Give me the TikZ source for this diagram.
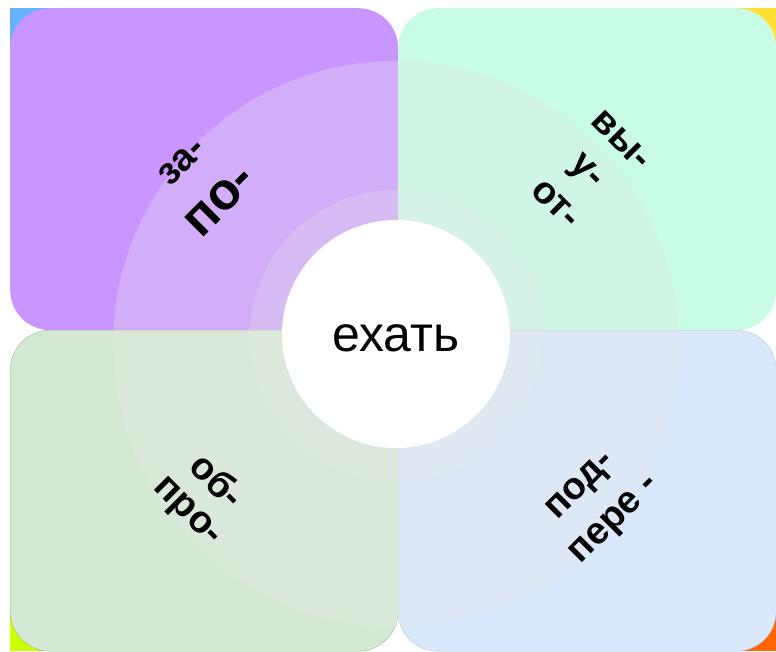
\documentclass[tikz,border=0pt]{standalone}
\usepackage{fontspec}
\setmainfont{Liberation Sans}
\usetikzlibrary{positioning}
\definecolor{lilac}{RGB}{201,150,255}
\definecolor{mint}{RGB}{200,252,228}
\definecolor{sage}{RGB}{213,232,212}
\definecolor{sageline}{RGB}{150,190,140}
\definecolor{sky}{RGB}{218,232,252}
\definecolor{skyline}{RGB}{170,195,230}
\definecolor{haze}{RGB}{232,232,232}
\definecolor{cornerblue}{RGB}{102,178,255}
\definecolor{corneryellow}{RGB}{255,224,51}
\definecolor{cornerlime}{RGB}{204,255,0}
\definecolor{cornerorange}{RGB}{255,102,0}
\tikzset{
  quarter/.style={rectangle, rounded corners=40pt, inner sep=0pt},
  pfxlabel/.style={font=\fontsize{38}{46}\selectfont\bfseries, inner sep=0pt},
  bigpfxlabel/.style={font=\fontsize{52}{62}\selectfont\bfseries, inner sep=0pt},
}
\begin{document}
\begin{tikzpicture}[x=1pt, y=-1pt]
    \useasboundingbox[fill=white] (0,0) rectangle (776,651);
    % corner patches
    \fill[cornerblue] (10,8) rectangle (60,58);
    \fill[corneryellow] (726,8) rectangle (776,58);
    \fill[cornerlime] (10,601) rectangle (60,651);
    \fill[cornerorange] (726,601) rectangle (776,651);

    % the four fields
    \node[quarter, fill=lilac, minimum width=388pt, minimum height=322pt, anchor=north west] (nw) at (10,8) {};
    \node[quarter, fill=mint, minimum width=378pt, minimum height=322pt, anchor=north west] (ne) at (398,8) {};
    \node[quarter, fill=sage, draw=sageline, minimum width=388pt, minimum height=321pt, anchor=north west] (sw) at (10,330) {};
    \node[quarter, fill=sky, draw=skyline, minimum width=378pt, minimum height=321pt, anchor=north west] (se) at (398,330) {};

    % rings
    \fill[haze, opacity=.3] (396,344) circle (283);
    \fill[haze, opacity=.25] (396,336) circle (146);
    \node[circle, fill=white, minimum size=228pt] (hub) at (396,334) {};
    \node[font=\fontsize{50}{60}\selectfont] (verb) at (396,338) {ехать};

    % prefixes
    \node[pfxlabel, rotate=45] (za) at (182,162) {за-};
    \node[bigpfxlabel, rotate=45] (po) at (220,201) {по-};
    \node[pfxlabel, rotate=-45] (vy) at (621,140) {вы-};
    \node[pfxlabel, rotate=-45] (u) at (585,173) {у-};
    \node[pfxlabel, rotate=-45] (ot) at (556,204) {от-};
    \node[pfxlabel, rotate=-45] (ob) at (218,480) {об-};
    \node[pfxlabel, rotate=-45] (pro) at (186,513) {про-};
    \node[pfxlabel, rotate=45] (pod) at (582,487) {под-};
    \node[pfxlabel, rotate=45] (pere) at (616,521) {пере -};
\end{tikzpicture}
\end{document}
